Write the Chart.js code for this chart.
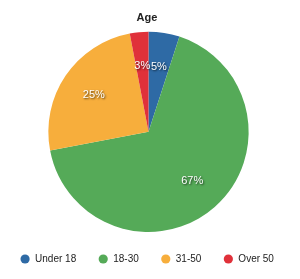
<!DOCTYPE html>
<html>
<head>
<meta charset="utf-8">
<script src="https://cdn.jsdelivr.net/npm/chart.js@4/dist/chart.umd.min.js"></script>
<style>
    html, body { margin: 0; padding: 0; background: #fff; }
    #wrap { width: 300px; height: 279px; }
</style>
</head>
<body>
<div id="wrap"><canvas id="chart" width="300" height="279"></canvas></div>
<script>
// Age groups
var labels = ["Under 18", "18-30", "31-50", "Over 50"];
var values = [5, 67, 25, 3];
var colors = ["#2e6aa5", "#55aa58", "#f7ae3c", "#e0313a"];

// draws the percent label inside each slice
var sliceLabels = {
    id: "sliceLabels",
    afterDatasetsDraw: function(chart) {
        var ctx = chart.ctx;
        var data = chart.data.datasets[0].data;
        var total = data.reduce(function(a, b) { return a + b; }, 0);
        var meta = chart.getDatasetMeta(0);
        ctx.save();
        ctx.font = "11px 'Liberation Sans', Arial, sans-serif";
        ctx.fillStyle = "#fff";
        ctx.textAlign = "center";
        ctx.textBaseline = "middle";
        ctx.shadowColor = "rgba(0,0,0,0.7)";
        ctx.shadowBlur = 2;
        ctx.shadowOffsetX = 1;
        ctx.shadowOffsetY = 1;
        meta.data.forEach(function(arc, i) {
            var p = arc.getProps(["x", "y", "startAngle", "endAngle", "outerRadius"], true);
            var mid = (p.startAngle + p.endAngle) / 2;
            var r = p.outerRadius * 0.66;
            var txt = Math.round(data[i] / total * 100) + "%";
            ctx.fillText(txt, p.x + Math.cos(mid) * r, p.y + Math.sin(mid) * r);
        });
        ctx.restore();
    }
};

var ctx = document.getElementById("chart").getContext("2d");
var chart = new Chart(ctx, {
    type: "pie",
    data: {
        labels: labels,
        datasets: [{
            data: values,
            backgroundColor: colors,
            borderWidth: 0
        }]
    },
    options: {
        responsive: false,
        animation: false,
        layout: {
            // shifted a little left, like the original
            padding: { top: 0, left: -3, right: 3, bottom: 5 }
        },
        plugins: {
            title: {
                display: true,
                text: "Age",
                color: "#222",
                font: { family: "'Liberation Sans', Arial, sans-serif", size: 11, weight: "bold" },
                padding: { top: 11, bottom: 7.5 }
            },
            legend: {
                position: "bottom",
                labels: {
                    usePointStyle: true,
                    pointStyle: "circle",
                    boxWidth: 10,
                    boxHeight: 6.5,
                    padding: 22,
                    color: "#222",
                    font: { family: "'Liberation Sans', Arial, sans-serif", size: 10 }
                }
            },
            tooltip: { enabled: false }
        }
    },
    plugins: [sliceLabels]
});
</script>
</body>
</html>
